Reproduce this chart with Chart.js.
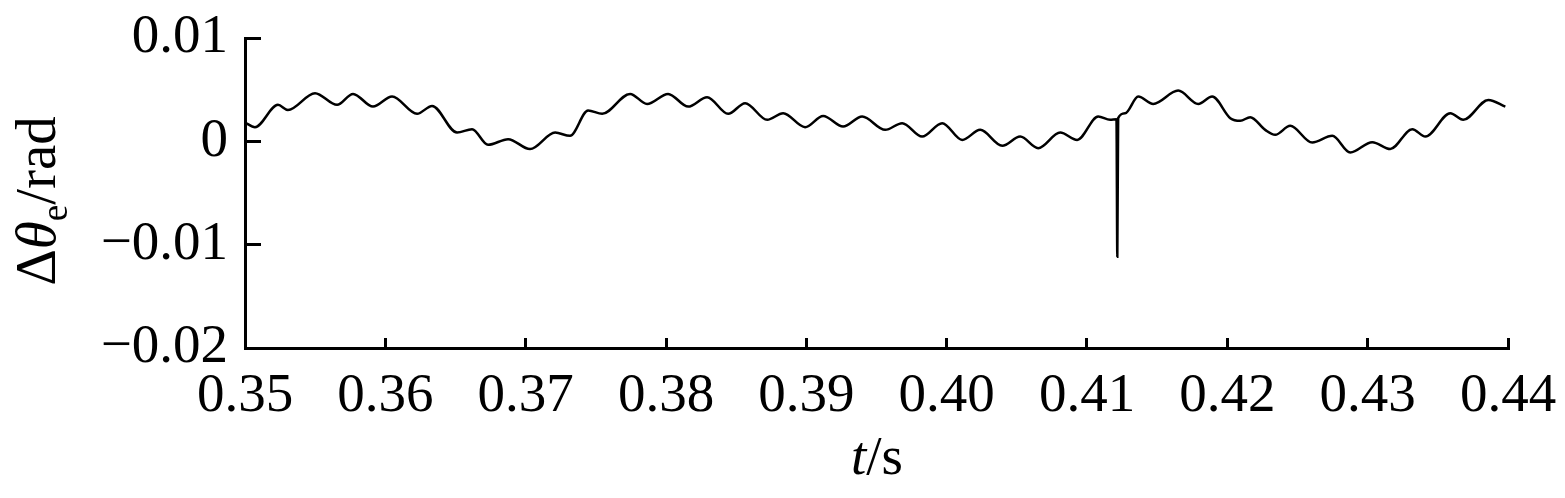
<!DOCTYPE html>
<html>
<head>
<meta charset="utf-8">
<script src="https://cdn.jsdelivr.net/npm/chart.js@4.4.1/dist/chart.umd.min.js"></script>
<style>
  html, body { margin: 0; padding: 0; background: #fff; }
  #wrap { width: 1565px; height: 498px; }
</style>
</head>
<body>
<div id="wrap"><canvas id="thetaChart" width="1565" height="498"></canvas></div>
<script>
// time (s) and rotor angle error (rad)
const timeS = [
  0.35000, 0.35071, 0.35235, 0.35306, 0.35499, 0.35656, 0.35770, 0.35912, 0.36048, 0.36226,
  0.36333, 0.36511, 0.36618, 0.36732, 0.36875, 0.37031, 0.37210, 0.37316, 0.37445, 0.37545,
  0.37744, 0.37865, 0.38015, 0.38158, 0.38293, 0.38443, 0.38564, 0.38721, 0.38835, 0.38991,
  0.39120, 0.39262, 0.39398, 0.39562, 0.39683, 0.39825, 0.39968, 0.40111, 0.40239, 0.40396,
  0.40524, 0.40652, 0.40809, 0.40930, 0.41080, 0.41165, 0.41210, 0.41216, 0.41222, 0.41272,
  0.41365, 0.41472, 0.41650, 0.41793, 0.41892, 0.42021, 0.42092, 0.42163, 0.42270, 0.42341,
  0.42448, 0.42605, 0.42748, 0.42876, 0.43033, 0.43161, 0.43318, 0.43411, 0.43589, 0.43681,
  0.43860, 0.43981
];
const deltaTheta = [
  0.00182, 0.00137, 0.00353, 0.00304, 0.00466, 0.00353, 0.00459, 0.00336, 0.00433, 0.00266,
  0.00343, 0.00085, 0.00118, -0.00034, 0.00021, -0.00075, 0.00085, 0.00053, 0.00298, 0.00266,
  0.00459, 0.00362, 0.00459, 0.00336, 0.00427, 0.00266, 0.00369, 0.00208, 0.00272, 0.00137,
  0.00246, 0.00143, 0.00240, 0.00111, 0.00176, 0.00046, 0.00176, 0.00014, 0.00111, -0.00043,
  0.00046, -0.00066, 0.00085, 0.00014, 0.00240, 0.00208, 0.00214, -0.01116, 0.00225, 0.00272,
  0.00433, 0.00362, 0.00491, 0.00362, 0.00433, 0.00224, 0.00198, 0.00234, 0.00111, 0.00063,
  0.00150, -0.00012, 0.00053, -0.00108, -0.00008, -0.00075, 0.00118, 0.00046, 0.00272, 0.00208,
  0.00401, 0.00336
];
const xTickValues = [0.35, 0.36, 0.37, 0.38, 0.39, 0.40, 0.41, 0.42, 0.43, 0.44];
const yTickValues = [-0.02, -0.01, 0, 0.01];

const serif = '"Liberation Serif", "Times New Roman", serif';

// axis titles with italic symbol and subscript
const titlesPlugin = {
  id: 'titles',
  afterDraw(chart) {
    const ctx = chart.ctx;
    ctx.save();
    ctx.fillStyle = '#000';
    ctx.textBaseline = 'alphabetic';
    ctx.textAlign = 'left';

    // y title: Δθe/rad, rotated
    const parts = [
      { t: 'Δ', f: '57px ' + serif, dy: 0 },
      { t: 'θ', f: 'italic 57px ' + serif, dy: 0 },
      { t: 'e', f: '37px ' + serif, dy: 12 },
      { t: '/rad', f: '57px ' + serif, dy: 0 }
    ];
    let total = 0;
    parts.forEach(p => { ctx.font = p.f; p.w = ctx.measureText(p.t).width; total += p.w; });
    ctx.translate(55, 201);
    ctx.rotate(-Math.PI / 2);
    let x = -total / 2;
    parts.forEach(p => { ctx.font = p.f; ctx.fillText(p.t, x, p.dy); x += p.w; });
    ctx.setTransform(1, 0, 0, 1, 0, 0);

    // x title: t/s
    const xp = [
      { t: 't', f: 'italic 55px ' + serif },
      { t: '/s', f: '55px ' + serif }
    ];
    total = 0;
    xp.forEach(p => { ctx.font = p.f; p.w = ctx.measureText(p.t).width; total += p.w; });
    x = 877 - total / 2;
    xp.forEach(p => { ctx.font = p.f; ctx.fillText(p.t, x, 474); x += p.w; });
    ctx.restore();
  }
};

// keep the plot box where the reference has it
const noPad = s => { s.paddingTop = 0; s.paddingBottom = 0; s.paddingLeft = 0; s.paddingRight = 0; };

const ctxTheta = document.getElementById('thetaChart').getContext('2d');

new Chart(ctxTheta, {
  type: 'line',
  data: {
    datasets: [{
      data: timeS.map((t, i) => ({ x: t, y: deltaTheta[i] })),
      borderColor: '#000',
      borderWidth: 2.5,
      pointRadius: 0,
      fill: false,
      cubicInterpolationMode: 'monotone'
    }]
  },
  options: {
    responsive: false,
    animation: false,
    layout: { padding: { top: 38, right: 57, left: 0, bottom: 0 } },
    plugins: {
      legend: { display: false },
      tooltip: { enabled: false }
    },
    scales: {
      x: {
        type: 'linear',
        min: 0.35,
        max: 0.44,
        afterBuildTicks: s => { s.ticks = xTickValues.map(v => ({ value: v })); },
        afterFit: s => { s.height = 150; noPad(s); },
        ticks: {
          color: '#000',
          padding: 26,
          maxRotation: 0,
          autoSkip: false,
          font: { family: serif, size: 55 },
          callback: v => v.toFixed(2)
        },
        grid: { drawOnChartArea: false, color: '#000', lineWidth: 3, tickLength: -10 },
        border: { color: '#000', width: 3 }
      },
      y: {
        min: -0.02,
        max: 0.01,
        afterBuildTicks: s => { s.ticks = yTickValues.map(v => ({ value: v })); },
        afterFit: s => { s.width = 245; noPad(s); },
        ticks: {
          color: '#000',
          padding: 33,
          font: { family: serif, size: 55 },
          callback: v => Math.abs(v) < 1e-9 ? '0' : (v < 0 ? '\u2212' + Math.abs(v).toFixed(2) : v.toFixed(2))
        },
        grid: { drawOnChartArea: false, color: '#000', lineWidth: 3, tickLength: -16 },
        border: { color: '#000', width: 3 }
      }
    }
  },
  plugins: [titlesPlugin]
});
</script>
</body>
</html>
